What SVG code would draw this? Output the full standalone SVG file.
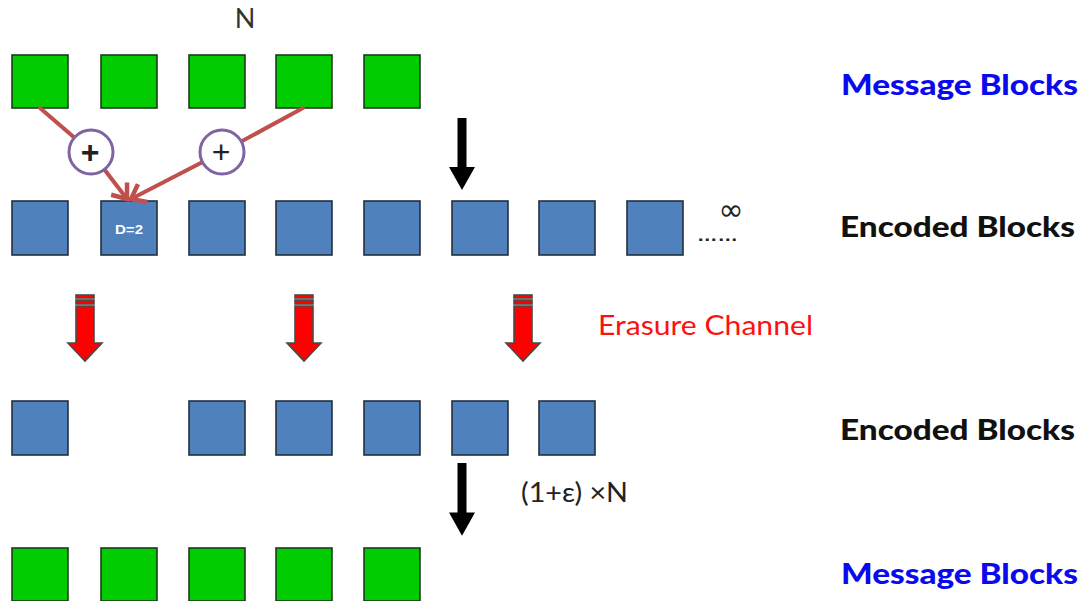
<svg xmlns="http://www.w3.org/2000/svg" xmlns:xlink="http://www.w3.org/1999/xlink" width="1085" height="601" viewBox="0 0 1085 601">
  <style>
    .msg { fill: #00CC00; stroke: #1d3a1d; stroke-width: 1.6; }
    .enc { fill: #4F81BD; stroke: #22303f; stroke-width: 1.6; }
    .xor { fill: #ffffff; stroke: #8064A2; stroke-width: 3; }
    .link { fill: none; stroke: #C0504D; stroke-width: 4; stroke-linecap: round; }
    .lbl { font-family: Lato, "Liberation Sans", sans-serif; font-size: 28px; font-weight: 900; }
    .blue { fill: #0a0aee; }
    .dark { fill: #111111; }
    .note { font-family: Lato, "Liberation Sans", sans-serif; font-size: 27px; fill: #222222; }
    .plus { font-family: "Liberation Sans", sans-serif; font-size: 32px; fill: #222222; text-anchor: middle; }
    .tag { font-family: "Liberation Sans", sans-serif; font-size: 13px; font-weight: bold; fill: #ffffff; text-anchor: middle; }
  </style>
  <defs>
    <marker id="chevron" markerUnits="userSpaceOnUse" markerWidth="30" markerHeight="30" refX="15" refY="15" orient="auto" viewBox="0 0 30 30">
      <path d="M2,5 L15,15 L2,25" fill="none" stroke="#C0504D" stroke-width="4.5" stroke-linejoin="miter"/>
    </marker>
    <!-- striped red block arrow, origin at top centre -->
    <g id="redArrow" fill="#ff0000" stroke="#4a4a4a" stroke-width="1.6">
      <rect x="-9" y="0" width="18" height="3"/>
      <rect x="-9" y="5" width="18" height="4"/>
      <path d="M-9,11 L9,11 L9,48 L17,48 L0,66 L-17,48 L-9,48 Z"/>
    </g>
    <!-- plain black block arrow, origin at top centre -->
    <path id="blackArrow" d="M-4.5,0 L4.5,0 L4.5,49 L13,49 L0,72 L-13,49 L-4.5,49 Z" fill="#000000"/>
  </defs>

  <rect width="1085" height="601" fill="#ffffff"/>

  <!-- row 1: message blocks -->
  <g id="message-row-top">
    <rect class="msg" x="12" y="55" width="56" height="53"/>
    <rect class="msg" x="101" y="55" width="56" height="53"/>
    <rect class="msg" x="189" y="55" width="56" height="53"/>
    <rect class="msg" x="276" y="55" width="56" height="53"/>
    <rect class="msg" x="364" y="55" width="56" height="53"/>
  </g>

  <!-- row 2: encoded blocks -->
  <g id="encoded-row-1">
    <rect class="enc" x="12" y="201" width="56" height="54"/>
    <rect class="enc" x="101" y="201" width="56" height="54"/>
    <text class="tag" x="129" y="234" textLength="28" lengthAdjust="spacingAndGlyphs">D=2</text>
    <rect class="enc" x="189" y="201" width="56" height="54"/>
    <rect class="enc" x="276" y="201" width="56" height="54"/>
    <rect class="enc" x="364" y="201" width="56" height="54"/>
    <rect class="enc" x="452" y="201" width="56" height="54"/>
    <rect class="enc" x="539" y="201" width="56" height="54"/>
    <rect class="enc" x="627" y="201" width="56" height="54"/>
    <text x="697" y="241" font-family="Liberation Sans, sans-serif" font-size="16" font-weight="bold" fill="#222" textLength="41" lengthAdjust="spacingAndGlyphs">……</text>
    <text x="731" y="220" font-family="DejaVu Sans, sans-serif" font-size="30" fill="#222" text-anchor="middle">∞</text>
  </g>

  <!-- row 3: received blocks -->
  <g id="encoded-row-2">
    <rect class="enc" x="12" y="401" width="56" height="54"/>
    <rect class="enc" x="189" y="401" width="56" height="54"/>
    <rect class="enc" x="276" y="401" width="56" height="54"/>
    <rect class="enc" x="364" y="401" width="56" height="54"/>
    <rect class="enc" x="452" y="401" width="56" height="54"/>
    <rect class="enc" x="539" y="401" width="56" height="54"/>
  </g>

  <!-- row 4: decoded message blocks -->
  <g id="message-row-bottom">
    <rect class="msg" x="12" y="548" width="56" height="53"/>
    <rect class="msg" x="101" y="548" width="56" height="53"/>
    <rect class="msg" x="189" y="548" width="56" height="53"/>
    <rect class="msg" x="276" y="548" width="56" height="53"/>
    <rect class="msg" x="364" y="548" width="56" height="53"/>
  </g>

  <!-- XOR connectors into the degree-2 block -->
  <g id="connectors">
    <path class="link" d="M40,108 L91,152 L127,199" marker-end="url(#chevron)"/>
    <path class="link" d="M303,108 L222,152 L131,199" marker-end="url(#chevron)"/>
  </g>

  <g id="xor-1">
    <circle class="xor" cx="91" cy="152" r="22"/>
    <text class="plus" x="90" y="163" font-weight="bold">+</text>
  </g>
  <g id="xor-2">
    <circle class="xor" cx="222" cy="152" r="22"/>
    <text class="plus" x="221" y="163">+</text>
  </g>

  <!-- process arrows -->
  <g id="encode-arrow"><use xlink:href="#blackArrow" transform="translate(462,118)"/></g>
  <g id="decode-arrow"><use xlink:href="#blackArrow" transform="translate(462,463) scale(1,1.01)"/></g>

  <g id="erasure-arrows">
    <use xlink:href="#redArrow" transform="translate(85,295)"/>
    <use xlink:href="#redArrow" transform="translate(304,295)"/>
    <use xlink:href="#redArrow" transform="translate(523,295)"/>
  </g>

  <!-- labels -->
  <g id="labels">
    <text x="245" y="28" font-family="Lato, Liberation Sans, sans-serif" font-size="27" fill="#333" text-anchor="middle">N</text>
    <text class="lbl blue" x="841" y="95" textLength="237" lengthAdjust="spacingAndGlyphs">Message Blocks</text>
    <text class="lbl dark" x="840" y="237" textLength="235" lengthAdjust="spacingAndGlyphs">Encoded Blocks</text>
    <text x="598" y="335" font-family="Lato, Liberation Sans, sans-serif" font-size="27" fill="#ff1010" textLength="215" lengthAdjust="spacingAndGlyphs">Erasure Channel</text>
    <text class="lbl dark" x="840" y="440" textLength="235" lengthAdjust="spacingAndGlyphs">Encoded Blocks</text>
    <text class="note" x="521" y="502" textLength="107" lengthAdjust="spacingAndGlyphs">(1+ε) ×N</text>
    <text class="lbl blue" x="841" y="584" textLength="237" lengthAdjust="spacingAndGlyphs">Message Blocks</text>
  </g>
</svg>
